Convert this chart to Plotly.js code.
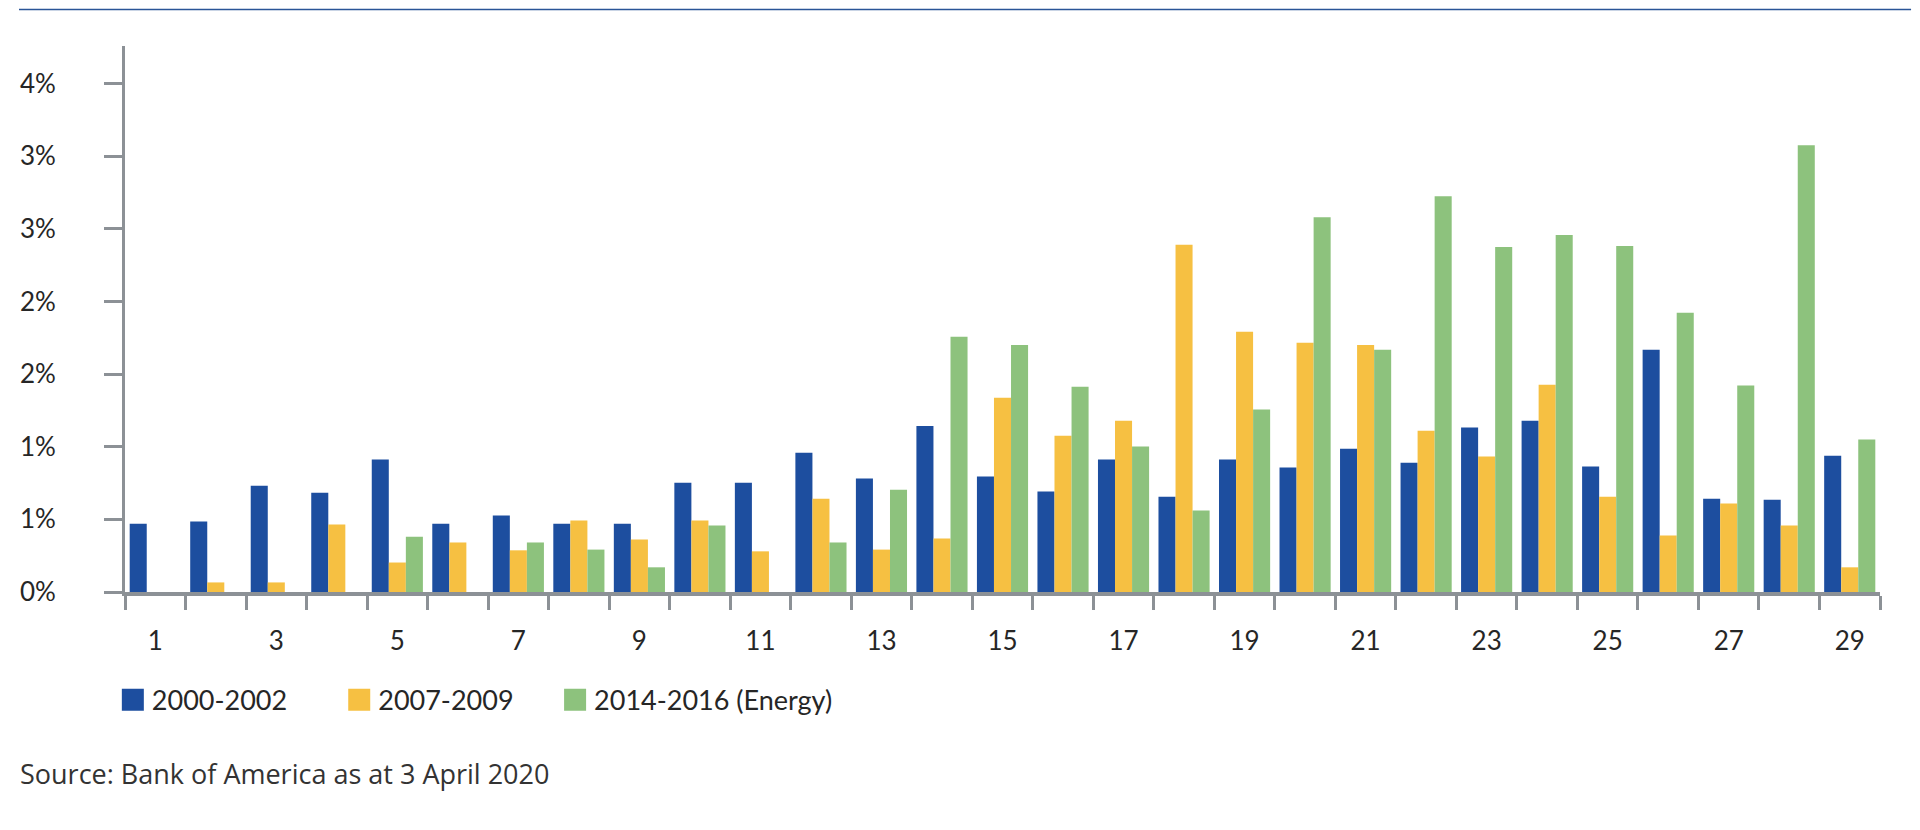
<!DOCTYPE html>
<html>
<head>
<meta charset="utf-8">
<script src="https://cdn.plot.ly/plotly-3.0.1.min.js"></script>
<style>
  html, body { margin: 0; padding: 0; background: #ffffff; }
  #chart { width: 1920px; height: 830px; }
</style>
</head>
<body>
<div id="chart"></div>
<script>
// ---- data ----
const categories = [1,2,3,4,5,6,7,8,9,10,11,12,13,14,15,16,17,18,19,20,21,22,23,24,25,26,27,28,29];
const seriesNames = ["2000-2002", "2007-2009", "2014-2016 (Energy)"];
const values2000 = [0.47,0.486,0.732,0.684,0.913,0.47,0.526,0.47,0.47,0.753,0.753,0.959,0.781,1.144,0.796,0.692,0.913,0.656,0.913,0.857,0.987,0.890,1.132,1.180,0.865,1.668,0.643,0.636,0.938];
const values2007 = [null,0.066,0.066,0.465,0.203,0.341,0.287,0.493,0.361,0.493,0.280,0.643,0.292,0.369,1.338,1.076,1.180,2.391,1.793,1.717,1.701,1.111,0.933,1.427,0.656,0.389,0.610,0.458,0.170];
const values2014 = [null,null,null,null,0.381,null,0.341,0.292,0.170,0.458,null,0.341,0.704,1.757,1.701,1.414,1.002,0.562,1.256,2.581,1.668,2.726,2.375,2.459,2.383,1.923,1.422,3.077,1.050];
const xTickVals = [1,3,5,7,9,11,13,15,17,19,21,23,25,27,29];
const xTickText = ["1","3","5","7","9","11","13","15","17","19","21","23","25","27","29"];
const yTickVals = [0,0.5,1,1.5,2,2.5,3,3.5];
const yTickText = ["0%","1%","1%","2%","2%","3%","3%","4%"];
const sourceText = "Source: Bank of America as at 3 April 2020";

// ---- styles ----
const colors = ["#1d4e9f", "#f6c042", "#8dc27d"];
const axisGray = "#8c9196";
const textColor = "#262626";
const boundaries = categories.map(c => c - 0.5).concat([categories[categories.length - 1] + 0.5]);

const seriesValues = [values2000, values2007, values2014];
const legendIds = ["legend", "legend2", "legend3"];
const traces = seriesValues.map((vals, i) => ({
  type: "bar",
  name: seriesNames[i],
  x: categories,
  y: vals,
  marker: { color: colors[i], line: { width: 0 } },
  legend: legendIds[i],
  hoverinfo: "skip"
}));

const legendFont = { family: "Lato, 'Open Sans', sans-serif", size: 27, color: textColor };
function legendAt(x) {
  return {
    x: x, y: -0.198, xanchor: "left", yanchor: "middle",
    orientation: "h", font: legendFont, bgcolor: "rgba(0,0,0,0)",
    borderwidth: 0
  };
}

const layout = {
  width: 1920,
  height: 830,
  margin: { l: 125, r: 40, t: 46, b: 238 },
  paper_bgcolor: "#ffffff",
  plot_bgcolor: "#ffffff",
  barmode: "group",
  bargap: 0.155,
  bargroupgap: 0,
  showlegend: true,
  legend: legendAt(-0.0075),
  legend2: legendAt(0.1215),
  legend3: legendAt(0.2445),
  xaxis: {
    type: "linear",
    range: [0.5, 29.5],
    tickmode: "array",
    tickvals: xTickVals,
    ticktext: xTickText,
    ticks: "",
    ticklabelstandoff: 23,
    showgrid: false,
    zeroline: false,
    showline: true,
    linecolor: axisGray,
    linewidth: 4,
    tickfont: { family: "Lato, 'Open Sans', sans-serif", size: 26, color: textColor },
    minor: {
      tickmode: "array",
      tickvals: boundaries,
      ticks: "outside",
      ticklen: 14,
      tickwidth: 3,
      tickcolor: axisGray,
      showgrid: false
    },
    fixedrange: true
  },
  yaxis: {
    range: [0, 3.76],
    tickmode: "array",
    tickvals: yTickVals,
    ticktext: yTickText,
    ticks: "outside",
    ticklen: 18,
    tickwidth: 3,
    tickcolor: axisGray,
    ticklabelstandoff: 43,
    showgrid: false,
    zeroline: false,
    showline: true,
    linecolor: axisGray,
    linewidth: 3,
    tickfont: { family: "Lato, 'Open Sans', sans-serif", size: 26, color: textColor },
    fixedrange: true
  },
  shapes: [
    {
      type: "line", xref: "paper", yref: "paper",
      x0: -0.0604, x1: 1.0177, y0: 1.0668, y1: 1.0668,
      line: { color: "#2a5597", width: 1.5 }
    }
  ],
  annotations: [
    {
      text: sourceText,
      xref: "paper", yref: "paper",
      x: -0.061, y: -0.333, xanchor: "left", yanchor: "middle",
      showarrow: false,
      font: { family: "'Open Sans', sans-serif", size: 27, color: "#333333" }
    }
  ]
};

Plotly.newPlot("chart", traces, layout, { displayModeBar: false, staticPlot: true }).then(() => {
  // enlarge the legend swatches to squares like the reference (kept inside the legend box)
  document.querySelectorAll(".legendpoints path").forEach(p => {
    p.removeAttribute("transform");
    p.setAttribute("d", "M32,11H10V-11H32Z");
  });
});
</script>
</body>
</html>
